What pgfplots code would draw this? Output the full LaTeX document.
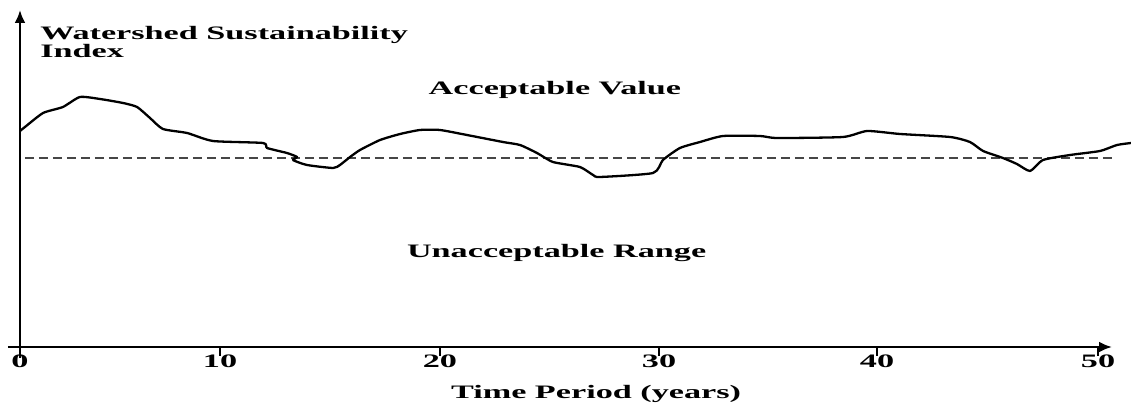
\documentclass[border=0pt]{standalone}
\usepackage{fontspec}
\setmainfont{Liberation Serif}[FakeStretch=1.8]
\usepackage{pgfplots}
\pgfplotsset{compat=1.18}
\usetikzlibrary{arrows.meta}
\newcommand\wfont{\fontsize{19}{21}\selectfont\bfseries}
\begin{document}
\begin{tikzpicture}[x=1pt,y=1pt]
\useasboundingbox (0,0) rectangle (1131,406);
\begin{axis}[
  at={(20pt,59pt)}, anchor=origin,
  x=21.56pt, y=1pt,
  xmin=-0.56, xmax=50.65, ymin=-11, ymax=337,
  enlargelimits=false, clip=false,
  axis lines=middle,
  hide obscured x ticks=false,
  axis line style={line width=2.6pt, -{Latex[length=13pt,width=11pt]}},
  xtick={0,9.28,19.48,29.64,39.75,50},
  xticklabels={0,10,20,30,40,50},
  ytick=\empty,
  tick align=outside,
  major tick length=9pt,
  tick style={line width=2pt, black},
  /pgf/number format/assume math mode=true,
  xticklabel style={font=\wfont, anchor=base, yshift=-12pt},
]
\addplot[gray!55!black, line width=2.2pt, dash pattern=on 9pt off 5pt]
  coordinates {(0.23,189) (50.65,189)};
\addplot[black, line width=2.3pt, smooth, tension=0.35, line join=round] coordinates {
(0,216) (0.23,220) (1.07,234) (1.99,240) (2.78,250) (3.71,248) (4.78,244)
(5.43,240) (6.03,229) (6.63,218) (7.75,214) (8.95,206) (11.27,204) (11.46,199)
(12.38,194) (12.85,190) (12.66,187) (13.31,182) (14.52,179) (14.84,182)
(15.31,190) (15.77,197) (16.70,207) (17.63,213) (18.55,217) (19.48,217)
(20.73,212) (22.40,205) (23.19,202) (23.98,194) (24.72,185) (25.97,180)
(26.58,172) (26.90,170) (29.36,174) (29.82,187) (30.61,199) (31.54,205)
(32.61,211) (34.32,211) (35.11,209) (38.17,210) (39.29,216) (40.82,213)
(43.14,210) (44.06,205) (44.67,196) (45.59,189) (46.24,183) (46.85,176)
(47.45,187) (48.70,192) (50.09,196) (50.88,202) (51.53,204)
};
\node[anchor=base west, font=\wfont, inner sep=0pt] at (axis cs:0.93,307) {Watershed Sustainability};
\node[anchor=base west, font=\wfont, inner sep=0pt] at (axis cs:0.93,289) {Index};
\node[anchor=base, font=\wfont, inner sep=0pt] at (axis cs:24.81,252) {Acceptable Value};
\node[anchor=base, font=\wfont, inner sep=0pt] at (axis cs:24.89,89) {Unacceptable Range};
\node[anchor=base, font=\wfont, inner sep=0pt] at (axis cs:26.72,-52) {Time Period (years)};
\end{axis}
\end{tikzpicture}
\end{document}
